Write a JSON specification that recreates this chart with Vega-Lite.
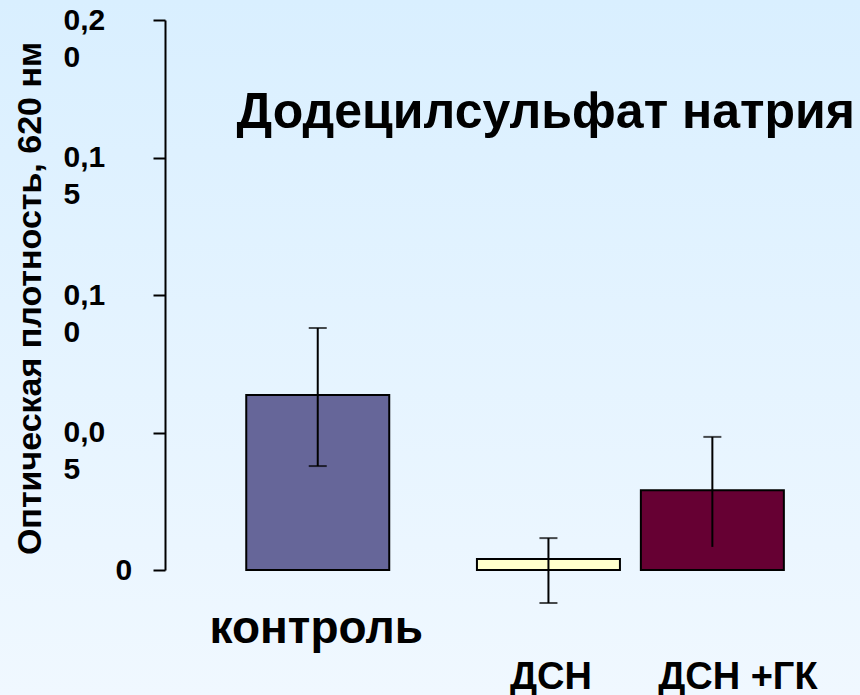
{
  "$schema": "https://vega.github.io/schema/vega-lite/v6.json",
  "width": 860,
  "height": 695,
  "autosize": {"type": "none"},
  "padding": 0,
  "background": "#e4f3ff",
  "config": {
    "view": {
      "stroke": null,
      "fill": {
        "gradient": "linear",
        "x1": 0, "y1": 0, "x2": 0, "y2": 1,
        "stops": [
          {"offset": 0, "color": "#d9efff"},
          {"offset": 1, "color": "#f0f8ff"}
        ]
      }
    },
    "font": "Liberation Sans"
  },
  "title": {
    "text": "Додецилсульфат натрия",
    "anchor": "end",
    "frame": "group",
    "offset": 0,
    "dx": -5,
    "dy": 178,
    "baseline": "alphabetic",
    "font": "Liberation Sans",
    "fontSize": 50,
    "fontWeight": "bold",
    "color": "#000000"
  },
  "data": {
    "values": [
      {"group": "контроль", "pos": 0.98, "value": 0.0636, "lo": 0.0378, "hi": 0.088},
      {"group": "ДСН", "pos": 2.5, "value": 0.004, "lo": -0.012, "hi": 0.0116},
      {"group": "ДСН +ГК", "pos": 3.58, "value": 0.029, "lo": 0.0084, "hi": 0.0484}
    ]
  },
  "encoding": {
    "x": {
      "field": "pos",
      "type": "quantitative",
      "scale": {"domain": [0, 4.5], "range": [164, 857], "nice": false, "zero": false},
      "axis": {
        "orient": "bottom",
        "offset": -125,
        "title": null,
        "domain": false,
        "ticks": false,
        "tickSize": 0,
        "grid": false,
        "values": [0.98, 2.5, 3.58],
        "labelExpr": "datum.value < 2 ? 'контроль' : datum.value < 3 ? 'ДСН' : 'ДСН +ГК'",
        "labelFont": "Liberation Sans",
        "labelFontSize": {"expr": "datum.value < 2 ? 46 : 38"},
        "labelFontWeight": "bold",
        "labelColor": "#000000",
        "labelBaseline": "alphabetic",
        "labelPadding": {"expr": "datum.value < 2 ? 72 : 118"},
        "labelOffset": {"expr": "datum.value > 3 ? 25 : datum.value > 2 ? 2 : -2"},
        "labelLimit": 0,
        "labelOverlap": false,
        "labelFlush": false
      }
    }
  },
  "layer": [
    {
      "mark": {"type": "bar", "size": 143, "stroke": "#000000", "strokeWidth": 2},
      "encoding": {
        "y": {
          "field": "value",
          "type": "quantitative",
          "scale": {"domain": [0, 0.2], "range": [570, 20], "nice": false},
          "axis": {
            "orient": "left",
            "offset": -165,
            "values": [0, 0.05, 0.1, 0.15, 0.2],
            "grid": false,
            "domainColor": "#000000",
            "domainWidth": 2,
            "tickColor": "#000000",
            "tickWidth": 2,
            "tickSize": 12,
            "labelExpr": "datum.value == 0 ? '0' : [substring(replace(format(datum.value, '.2f'), '.', ','), 0, 3), substring(replace(format(datum.value, '.2f'), '.', ','), 3)]",
            "labelFont": "Liberation Sans",
            "labelFontSize": 30,
            "labelFontWeight": "bold",
            "labelColor": "#000000",
            "labelAlign": "left",
            "labelBaseline": "alphabetic",
            "labelLineHeight": 37,
            "labelPadding": {"expr": "datum.value == 0 ? 38 : 90"},
            "labelOffset": 9,
            "labelLimit": 0,
            "labelOverlap": false,
            "labelFlush": false,
            "title": "Оптическая плотность, 620 нм",
            "titleFont": "Liberation Sans",
            "titleFontSize": 34,
            "titleFontWeight": "bold",
            "titleColor": "#000000",
            "titleAngle": -90,
            "titleAlign": "center",
            "titleBaseline": "middle",
            "titleX": -135,
            "titleY": 298
          }
        },
        "fill": {
          "field": "group",
          "type": "nominal",
          "scale": {
            "domain": ["контроль", "ДСН", "ДСН +ГК"],
            "range": ["#666699", "#ffffcc", "#660033"]
          },
          "legend": null
        }
      }
    },
    {
      "mark": {"type": "rule", "color": "#000000", "strokeWidth": 2},
      "encoding": {
        "y": {"field": "lo", "type": "quantitative"},
        "y2": {"field": "hi"}
      }
    },
    {
      "mark": {"type": "tick", "orient": "horizontal", "color": "#000000", "size": 18, "thickness": 2},
      "encoding": {
        "y": {"field": "hi", "type": "quantitative"}
      }
    },
    {
      "transform": [{"filter": "datum.group != 'ДСН +ГК'"}],
      "mark": {"type": "tick", "orient": "horizontal", "color": "#000000", "size": 18, "thickness": 2},
      "encoding": {
        "y": {"field": "lo", "type": "quantitative"}
      }
    }
  ]
}
